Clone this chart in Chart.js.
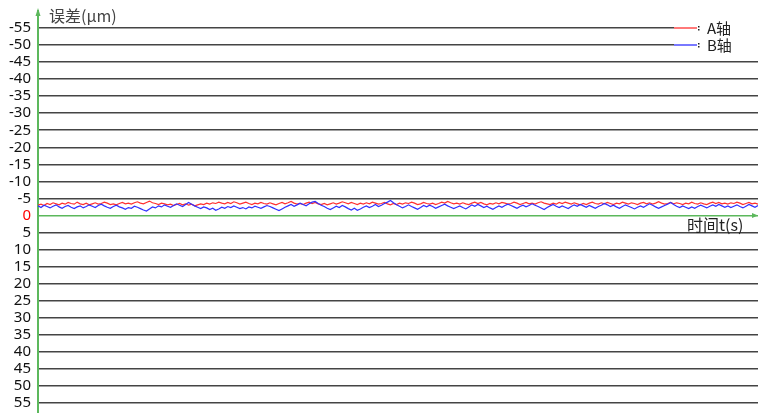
<!DOCTYPE html>
<html>
<head>
<meta charset="utf-8">
<script src="https://cdn.jsdelivr.net/npm/chart.js@4"></script>
<style>
  html, body { margin: 0; padding: 0; background: #fff; }
  #wrap { width: 758px; height: 413px; }
</style>
</head>
<body>
<div id="wrap"><canvas id="grafica" width="758" height="413"></canvas></div>
<script>
// ===============================
// DATOS
// ===============================
const yTicks = [-55, -50, -45, -40, -35, -30, -25, -20, -15, -10, -5, 0, 5, 10, 15, 20, 25, 30, 35, 40, 45, 50, 55];
const serieNombres = ["A轴", "B轴"];
const tituloY = "误差(μm)";
const tituloX = "时间t(s)";

// A轴 (rojo)
const ejeA = [
  -3.0,-3.3,-2.9,-3.5,-3.2,-3.7,-3.4,-3.1,-3.6,-3.3,-3.8,-3.5,-3.3,-3.9,-3.4,-3.2,-3.6,-3.1,-3.4,-3.7,
  -3.3,-3.5,-3.9,-3.6,-3.2,-3.4,-3.1,-3.5,-3.8,-3.4,-3.6,-3.3,-3.7,-4.0,-3.6,-3.4,-3.8,-4.2,-3.7,-3.5,
  -3.2,-3.6,-3.4,-3.1,-3.3,-2.9,-3.2,-3.5,-3.1,-3.4,-3.0,-3.3,-2.8,-3.1,-3.4,-3.2,-3.6,-3.3,-3.7,-3.5,
  -3.9,-3.6,-3.4,-3.8,-3.5,-4.0,-3.7,-3.3,-3.6,-3.9,-3.5,-3.2,-3.6,-3.4,-3.8,-3.5,-3.3,-3.7,-3.4,-3.1,
  -3.5,-3.8,-3.4,-3.7,-4.1,-3.6,-3.3,-3.5,-3.2,-3.6,-3.9,-3.5,-3.8,-3.4,-3.2,-3.5,-3.1,-3.4,-3.7,-3.3,
  -3.6,-4.0,-3.7,-3.4,-3.8,-3.5,-3.2,-3.6,-3.3,-3.7,-3.4,-3.9,-3.6,-3.3,-3.5,-3.8,-3.4,-3.1,-3.5,-3.2,
  -3.6,-3.3,-3.7,-3.5,-3.9,-3.6,-3.2,-3.4,-3.8,-3.5,-3.3,-3.6,-3.2,-3.5,-3.9,-3.6,-4.1,-3.7,-3.4,-3.6,
  -3.3,-3.7,-3.4,-3.2,-3.6,-3.9,-3.5,-3.8,-3.4,-3.1,-3.5,-3.3,-3.7,-3.4,-3.8,-3.6,-3.3,-3.5,-3.9,-3.6,
  -3.2,-3.5,-3.8,-3.4,-3.6,-3.3,-3.7,-4.0,-3.6,-3.4,-3.2,-3.6,-3.3,-3.8,-3.5,-3.9,-3.6,-3.3,-3.7,-3.4,
  -3.1,-3.5,-3.2,-3.6,-3.9,-3.5,-3.3,-3.7,-3.4,-3.8,-3.5,-3.2,-3.6,-3.4,-3.9,-3.6,-3.3,-3.7,-3.5,-3.2,
  -3.6,-3.8,-3.4,-3.7,-3.3,-3.6,-4.0,-3.6,-3.3,-3.5,-3.8,-3.4,-3.7,-3.5,-3.2,-3.6,-3.4,-3.9,-3.5,-3.3,
  -3.7,-3.4,-3.2,-3.6,-3.9,-3.5,-3.8,-3.4,-3.6,-3.3,-3.7,-3.5,-3.9,-3.6,-3.2,-3.5,-3.8,-3.4,-3.6,-3.3
];

// B轴 (azul)
const ejeB = [
  -2.8,-2.3,-3.0,-2.6,-2.2,-2.7,-3.1,-2.5,-2.1,-2.6,-2.9,-2.4,-2.0,-2.5,-2.8,-2.2,-2.6,-3.1,-2.7,-2.3,
  -2.9,-3.3,-2.8,-2.4,-2.1,-2.6,-3.0,-2.5,-2.2,-1.8,-2.3,-2.1,-2.7,-2.4,-2.0,-1.6,-1.3,-1.9,-2.5,-2.2,
  -2.8,-2.5,-3.1,-2.7,-2.4,-2.9,-3.4,-3.0,-2.6,-3.2,-3.8,-3.3,-2.8,-2.4,-2.0,-2.5,-2.2,-1.7,-2.1,-1.5,
  -1.9,-2.4,-2.1,-2.6,-2.3,-2.8,-2.4,-2.0,-2.3,-1.9,-2.5,-2.2,-2.7,-2.4,-2.1,-2.5,-2.9,-2.6,-2.2,-1.8,
  -1.4,-1.9,-2.4,-2.8,-3.2,-2.7,-3.1,-3.6,-3.2,-2.8,-3.4,-3.9,-4.1,-3.5,-3.0,-2.6,-2.1,-1.7,-2.2,-2.7,
  -2.3,-2.9,-2.5,-2.0,-1.6,-2.1,-1.5,-1.9,-2.4,-2.8,-2.3,-2.7,-3.2,-2.6,-3.0,-3.5,-3.9,-4.4,-3.7,-3.1,
  -2.7,-2.2,-2.6,-3.1,-2.6,-2.2,-1.8,-2.3,-2.9,-2.5,-3.0,-2.6,-2.1,-2.5,-2.9,-3.3,-2.8,-2.4,-2.0,-2.4,
  -2.8,-2.3,-1.9,-2.5,-3.1,-2.7,-3.2,-2.8,-2.3,-2.7,-2.2,-1.8,-2.3,-2.8,-2.4,-2.9,-3.3,-2.9,-2.5,-2.1,
  -2.6,-3.0,-2.5,-2.9,-3.4,-3.0,-2.6,-2.2,-1.7,-2.3,-2.8,-3.2,-2.7,-2.3,-2.8,-2.4,-2.0,-2.6,-3.1,-2.7,
  -3.2,-2.8,-2.4,-2.9,-2.5,-2.1,-2.6,-3.0,-3.5,-3.1,-2.6,-3.0,-2.5,-2.1,-2.6,-3.1,-2.7,-2.3,-1.9,-2.4,
  -2.8,-2.4,-2.9,-3.4,-3.0,-2.5,-2.1,-2.5,-2.9,-3.3,-3.8,-3.2,-2.7,-2.3,-2.8,-2.4,-2.0,-2.5,-2.1,-2.6,
  -3.0,-2.6,-2.2,-2.7,-3.1,-2.7,-3.2,-2.8,-2.4,-2.8,-2.3,-2.7,-3.1,-2.6,-2.2,-2.7,-3.2,-2.8,-2.4,-2.9
];

const etiquetas = ejeA.map((_, i) => i);

const verde = "#5cb85c";
const rojo = "#ff3030";
const azul = "#3030ff";

// ===============================
// PLUGIN: flechas, titulos, leyenda
// ===============================
const extras = {
  id: "extras",
  afterDraw(chart) {
    const ctx = chart.ctx;
    const area = chart.chartArea;
    const y0 = chart.scales.y.getPixelForValue(0);
    ctx.save();

    // flecha eje vertical
    ctx.fillStyle = verde;
    ctx.beginPath();
    ctx.moveTo(area.left, area.top - 3);
    ctx.lineTo(area.left - 2.5, area.top + 5);
    ctx.lineTo(area.left + 2.5, area.top + 5);
    ctx.closePath();
    ctx.fill();

    // flecha eje horizontal
    ctx.beginPath();
    ctx.moveTo(area.right, y0);
    ctx.lineTo(area.right - 6, y0 - 2.5);
    ctx.lineTo(area.right - 6, y0 + 2.5);
    ctx.closePath();
    ctx.fill();

    // titulos
    ctx.fillStyle = "#444";
    ctx.font = "16px 'Noto Sans CJK SC', 'Noto Sans'";
    ctx.textBaseline = "middle";
    ctx.textAlign = "left";
    ctx.fillText(tituloY, 49, 16);
    ctx.fillStyle = "#222";
    ctx.fillText(tituloX, 687, 225);

    // leyenda
    ctx.fillStyle = "#fff";
    ctx.fillRect(674, 20, 84, 32);
    const colores = [rojo, azul];
    const ys = [28, 45];
    serieNombres.forEach((nombre, i) => {
      ctx.strokeStyle = colores[i];
      ctx.lineWidth = 1.3;
      ctx.beginPath();
      ctx.moveTo(674, ys[i]);
      ctx.lineTo(697, ys[i]);
      ctx.stroke();
      ctx.fillStyle = "#222";
      ctx.fillRect(698, ys[i] - 2, 1.5, 1.5);
      ctx.fillRect(698, ys[i] + 1, 1.5, 1.5);
      ctx.font = "15px 'Noto Sans CJK SC', 'Noto Sans'";
      ctx.fillText(nombre, 707, ys[i]);
    });

    ctx.restore();
  }
};

// ===============================
// GRAFICA
// ===============================
const ctx = document.getElementById("grafica").getContext("2d");

new Chart(ctx, {
  type: "line",
  data: {
    labels: etiquetas,
    datasets: [
      {
        label: serieNombres[0],
        data: ejeA,
        borderColor: rojo,
        borderWidth: 1.2,
        pointRadius: 0,
        tension: 0,
        order: 1
      },
      {
        label: serieNombres[1],
        data: ejeB,
        borderColor: azul,
        borderWidth: 1.2,
        pointRadius: 0,
        tension: 0,
        order: 0
      }
    ]
  },
  options: {
    responsive: false,
    animation: false,
    layout: { padding: { top: 11, right: 0, bottom: 0, left: 0 } },
    plugins: {
      legend: { display: false },
      tooltip: { enabled: false }
    },
    scales: {
      x: {
        type: "category",
        display: false,
        offset: false
      },
      y: {
        reverse: true,
        min: -60,
        max: 58,
        afterBuildTicks: (axis) => {
          axis.ticks = yTicks.map(v => ({ value: v }));
        },
        afterFit: (axis) => {
          axis.width = 38;
          axis.paddingTop = 0;
          axis.paddingBottom = 0;
        },
        border: { color: verde, width: 2 },
        grid: {
          drawTicks: false,
          color: (c) => c.tick && c.tick.value === 0 ? verde : "#444",
          lineWidth: 1.5
        },
        ticks: {
          padding: 7,
          autoSkip: false,
          font: { family: "'Noto Sans'", size: 15 },
          color: (c) => c.tick && c.tick.value === 0 ? "#ff0000" : "#111",
          callback: (v) => v
        }
      }
    }
  },
  plugins: [extras]
});
</script>
</body>
</html>
